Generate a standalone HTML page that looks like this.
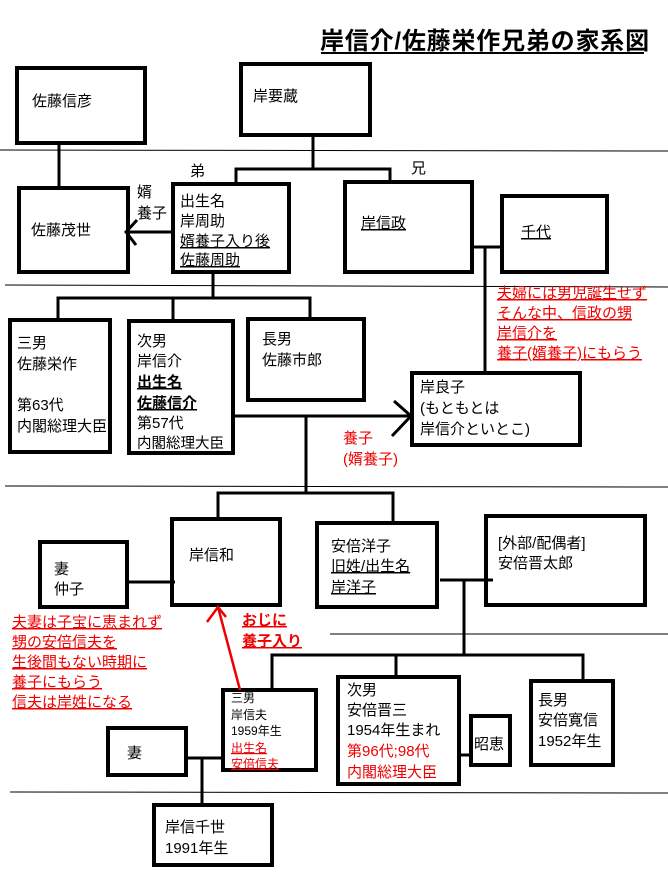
<!DOCTYPE html>
<html><head><meta charset="utf-8"><style>
html,body{margin:0;padding:0;background:#fff;}
svg{display:block;}
text{font-family:"Liberation Sans","Noto Sans CJK JP",sans-serif;font-size:15px;fill:#000;}
.r{fill:#e00;}
.u{text-decoration:underline;}
</style></head><body>
<svg width="668" height="872" viewBox="0 0 668 872" xmlns="http://www.w3.org/2000/svg">
<g stroke="#000" stroke-width="1" fill="none">
<line x1="0" y1="150" x2="668" y2="151"/>
<line x1="5" y1="285" x2="668" y2="287"/>
<line x1="5" y1="486" x2="668" y2="487"/>
<line x1="330" y1="634" x2="668" y2="634"/>
<line x1="10" y1="792" x2="668" y2="793"/>
<line x1="321" y1="53" x2="644" y2="53" stroke-width="2"/>
</g>
<g stroke="#000" stroke-width="4" fill="none">
<rect x="17" y="68" width="128" height="75"/>
<rect x="241" y="64" width="129" height="71"/>
<rect x="19" y="188" width="109" height="84"/>
<rect x="173" y="184" width="116" height="88"/>
<rect x="345" y="182" width="127" height="90"/>
<rect x="502" y="196" width="105" height="76"/>
<rect x="10" y="320" width="100" height="132"/>
<rect x="129" y="321" width="104" height="132"/>
<rect x="248" y="319" width="116" height="81"/>
<rect x="412" y="373" width="168" height="72"/>
<rect x="172" y="519" width="108" height="86"/>
<rect x="40" y="542" width="87" height="65"/>
<rect x="317" y="523" width="120" height="84"/>
<rect x="486" y="516" width="159" height="89"/>
<rect x="223" y="690" width="93" height="80"/>
<rect x="338" y="677" width="121" height="107"/>
<rect x="471" y="716" width="39" height="49"/>
<rect x="531" y="681" width="82" height="84"/>
<rect x="108" y="728" width="78" height="47"/>
<rect x="154" y="805" width="118" height="60"/>
</g>
<g stroke="#000" stroke-width="3" fill="none">
<line x1="59" y1="143" x2="59" y2="188"/>
<polyline points="313,135 313,169"/>
<polyline points="236,183 236,169 390,169 390,181"/>
<line x1="173" y1="232" x2="128" y2="232"/>
<polyline points="137,220 126,232 136,245"/>
<line x1="472" y1="247" x2="502" y2="247"/>
<line x1="485" y1="247" x2="485" y2="373"/>
<line x1="213" y1="272" x2="213" y2="298"/>
<polyline points="58,320 58,298 310,298 310,319"/>
<line x1="173" y1="298" x2="173" y2="321"/>
<line x1="233" y1="416" x2="412" y2="416"/>
<polyline points="394,401 411,416 392,436"/>
<line x1="306" y1="416" x2="306" y2="493"/>
<polyline points="218,519 218,493 393,493 393,523"/>
<line x1="127" y1="582" x2="175" y2="582"/>
<line x1="440" y1="580" x2="493" y2="580"/>
<line x1="464" y1="580" x2="464" y2="655"/>
<polyline points="272,690 272,655 583,655 583,681"/>
<line x1="396" y1="655" x2="396" y2="677"/>
<line x1="459" y1="755" x2="471" y2="755"/>
<line x1="186" y1="758" x2="223" y2="758"/>
<line x1="202" y1="758" x2="202" y2="805"/>
</g>
<g stroke="#e00" stroke-width="2.5" fill="none">
<line x1="240" y1="690" x2="218" y2="607"/>
<polyline points="207,622 218,607 226,617"/>
</g>
<text x="320" y="49" style="font-size:24px;font-weight:bold;letter-spacing:0.8px">岸信介/佐藤栄作兄弟の家系図</text>
<text x="32" y="106">佐藤信彦</text>
<text x="253" y="101">岸要蔵</text>
<text x="190" y="176">弟</text>
<text x="411" y="173">兄</text>
<text x="137" y="197">婿</text>
<text x="137" y="218">養子</text>
<text x="31" y="235">佐藤茂世</text>
<text x="180" y="206">出生名</text>
<text x="180" y="226">岸周助</text>
<text x="180" y="246" class="u">婿養子入り後</text>
<text x="180" y="265" class="u">佐藤周助</text>
<text x="361" y="228" class="u">岸信政</text>
<text x="521" y="237" class="u">千代</text>
<text x="497" y="298" class="r u">夫婦には男児誕生せず</text>
<text x="497" y="318" class="r u">そんな中、信政の甥</text>
<text x="497" y="338" class="r u">岸信介を</text>
<text x="497" y="358" class="r u">養子(婿養子)にもらう</text>
<text x="17" y="348">三男</text>
<text x="17" y="369">佐藤栄作</text>
<text x="17" y="410">第63代</text>
<text x="17" y="431">内閣総理大臣</text>
<text x="137" y="346">次男</text>
<text x="137" y="366">岸信介</text>
<text x="137" y="387" class="u" style="font-weight:bold">出生名</text>
<text x="137" y="408" class="u" style="font-weight:bold">佐藤信介</text>
<text x="137" y="428">第57代</text>
<text x="137" y="448" style="font-size:14.5px">内閣総理大臣</text>
<text x="262" y="344">長男</text>
<text x="262" y="365">佐藤市郎</text>
<text x="420" y="392">岸良子</text>
<text x="420" y="413">(もともとは</text>
<text x="420" y="434">岸信介といとこ)</text>
<text x="343" y="443" class="r">養子</text>
<text x="343" y="464" class="r">(婿養子)</text>
<text x="189" y="560">岸信和</text>
<text x="54" y="574">妻</text>
<text x="54" y="594">仲子</text>
<text x="331" y="551">安倍洋子</text>
<text x="331" y="571" class="u">旧姓/出生名</text>
<text x="331" y="592" class="u">岸洋子</text>
<text x="498" y="548">[外部/配偶者]</text>
<text x="498" y="568">安倍晋太郎</text>
<text x="12" y="627" class="r u">夫妻は子宝に恵まれず</text>
<text x="12" y="647" class="r u">甥の安倍信夫を</text>
<text x="12" y="667" class="r u">生後間もない時期に</text>
<text x="12" y="687" class="r u">養子にもらう</text>
<text x="12" y="707" class="r u">信夫は岸姓になる</text>
<text x="242" y="625" class="r u" style="font-weight:bold">おじに</text>
<text x="242" y="646" class="r u" style="font-weight:bold">養子入り</text>
<text x="231" y="702" style="font-size:12px">三男</text>
<text x="231" y="719" style="font-size:12px">岸信夫</text>
<text x="231" y="735" style="font-size:12px">1959年生</text>
<text x="231" y="752" style="font-size:12px" class="r u">出生名</text>
<text x="231" y="768" style="font-size:12px" class="r u">安倍信夫</text>
<text x="347" y="695">次男</text>
<text x="347" y="715">安倍晋三</text>
<text x="347" y="735">1954年生まれ</text>
<text x="347" y="756" class="r">第96代;98代</text>
<text x="347" y="777" class="r">内閣総理大臣</text>
<text x="474" y="749">昭恵</text>
<text x="538" y="705">長男</text>
<text x="538" y="725">安倍寛信</text>
<text x="538" y="746">1952年生</text>
<text x="127" y="758">妻</text>
<text x="165" y="832">岸信千世</text>
<text x="165" y="853">1991年生</text>
</svg>
</body></html>
